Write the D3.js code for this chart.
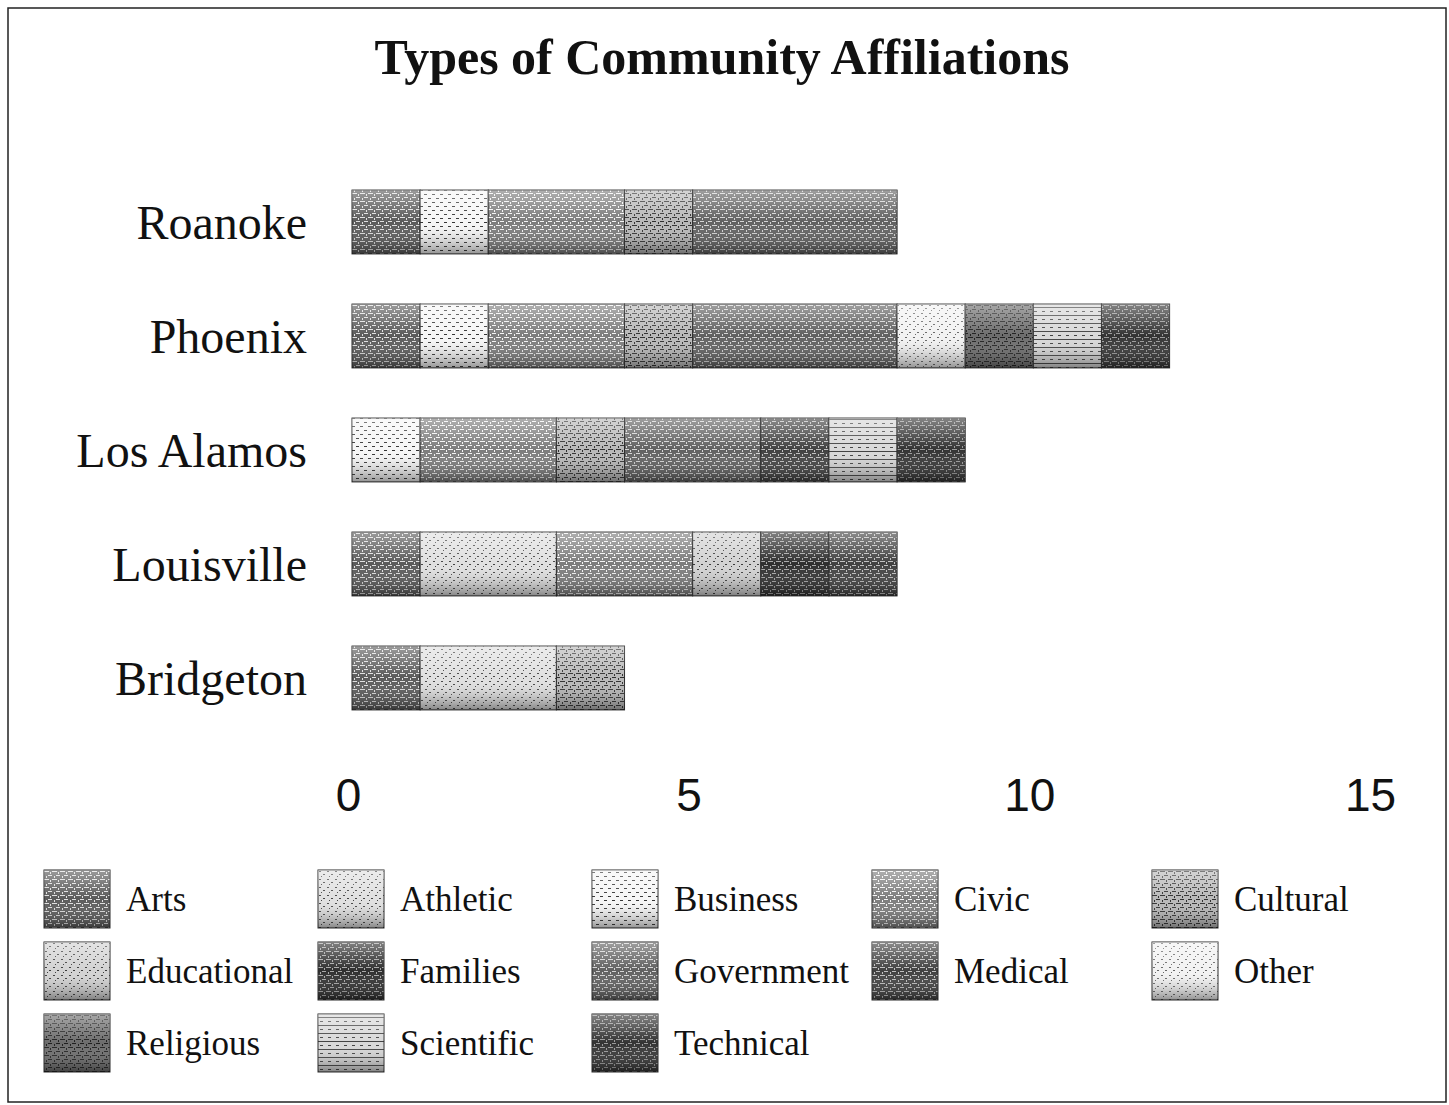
<!DOCTYPE html>
<html>
<head>
<meta charset="utf-8">
<script src="https://cdn.jsdelivr.net/npm/d3@7"></script>
<style>
  body { margin: 0; background: #fff; }
  svg { display: block; }
</style>
</head>
<body>
<div id="chart"></div>
<script>
// cities, top to bottom
const cities = ["Roanoke", "Phoenix", "Los Alamos", "Louisville", "Bridgeton"];
const categories = ["Arts", "Athletic", "Business", "Civic", "Cultural", "Educational",
  "Families", "Government", "Medical", "Other", "Religious", "Scientific", "Technical"];
const xTicks = [0, 5, 10, 15];

// counts per category, same order as cities
const arts        = [1, 1, 0, 1, 1];
const athletic    = [0, 0, 0, 2, 2];
const business    = [1, 1, 1, 0, 0];
const civic       = [2, 2, 2, 2, 0];
const cultural    = [1, 1, 1, 0, 1];
const educational = [0, 0, 0, 1, 0];
const families    = [0, 0, 0, 1, 0];
const government  = [3, 3, 2, 0, 0];
const medical     = [0, 0, 1, 1, 0];
const other       = [0, 1, 0, 0, 0];
const religious   = [0, 1, 0, 0, 0];
const scientific  = [0, 1, 1, 0, 0];
const technical   = [0, 1, 1, 0, 0];

const series = [arts, athletic, business, civic, cultural, educational,
  families, government, medical, other, religious, scientific, technical];

const rows = cities.map((c, i) => {
  const r = { city: c };
  categories.forEach((k, j) => r[k] = series[j][i]);
  return r;
});

// grey textures, roughly like the scanned fills
const fills = {
  Arts:        { bg: "#5a5a5a", fg: "#e0e0e0", kind: "brick" },
  Athletic:    { bg: "#e0e0e0", fg: "#444",    kind: "dot" },
  Business:    { bg: "#f6f6f6", fg: "#333",    kind: "dash" },
  Civic:       { bg: "#7c7c7c", fg: "#f4f4f4", kind: "brick" },
  Cultural:    { bg: "#b8b8b8", fg: "#2e2e2e", kind: "brick" },
  Educational: { bg: "#d2d2d2", fg: "#3a3a3a", kind: "dot" },
  Families:    { bg: "#2e2e2e", fg: "#a8a8a8", kind: "brick" },
  Government:  { bg: "#606060", fg: "#d4d4d4", kind: "brick" },
  Medical:     { bg: "#404040", fg: "#c0c0c0", kind: "brick" },
  Other:       { bg: "#f2f2f2", fg: "#666",    kind: "dot" },
  Religious:   { bg: "#6c6c6c", fg: "#1e1e1e", kind: "brick" },
  Scientific:  { bg: "#d8d8d8", fg: "#404040", kind: "hline" },
  Technical:   { bg: "#333",    fg: "#9a9a9a", kind: "brick" }
};

const width = 1449, height = 1105;

const svg = d3.select("#chart").append("svg")
  .attr("width", width)
  .attr("height", height);

const defs = svg.append("defs");

function makePattern(id, f) {
  const p = defs.append("pattern")
    .attr("id", id)
    .attr("patternUnits", "userSpaceOnUse")
    .attr("width", 8).attr("height", 8);
  p.append("rect").attr("width", 8).attr("height", 8).attr("fill", f.bg);
  const dot = (px, py, w, h) => p.append("rect")
    .attr("x", px).attr("y", py).attr("width", w).attr("height", h).attr("fill", f.fg);
  if (f.kind === "brick") {
    dot(0, 1, 5, 1); dot(4, 5, 5, 1); dot(6, 2, 1, 2); dot(2, 6, 1, 2);
  } else if (f.kind === "dot") {
    dot(1, 1, 2, 1); dot(5, 4, 2, 1); dot(3, 6, 1, 1);
  } else if (f.kind === "dash") {
    dot(0, 2, 3, 1); dot(4, 6, 3, 1);
  } else {
    dot(0, 3, 8, 1); dot(2, 7, 3, 1);
  }
}
categories.forEach((k, i) => makePattern("pat" + i, fills[k]));

// light at top, darker toward the bottom
const grad = defs.append("linearGradient")
  .attr("id", "shade").attr("x1", 0).attr("y1", 0).attr("x2", 0).attr("y2", 1);
grad.append("stop").attr("offset", "0%").attr("stop-color", "#fff").attr("stop-opacity", 0.4);
grad.append("stop").attr("offset", "50%").attr("stop-color", "#fff").attr("stop-opacity", 0);
grad.append("stop").attr("offset", "100%").attr("stop-color", "#000").attr("stop-opacity", 0.4);

// frame
svg.append("rect")
  .attr("x", 8).attr("y", 8)
  .attr("width", 1438).attr("height", 1094)
  .attr("fill", "none")
  .attr("stroke", "#222")
  .attr("stroke-width", 1.5);

svg.append("text")
  .attr("x", 722).attr("y", 74)
  .attr("text-anchor", "middle")
  .style("font-family", "'Liberation Serif', 'Times New Roman', serif")
  .style("font-weight", "bold")
  .style("font-size", "50px")
  .style("fill", "#111")
  .text("Types of Community Affiliations");

const x = d3.scaleLinear()
  .domain([0, 15])
  .range([352, 1374]);

const y = d3.scaleBand()
  .domain(cities)
  .range([165, 735])
  .paddingInner(0.44)
  .paddingOuter(0.22);

const stacked = d3.stack().keys(categories)(rows);

const layers = svg.append("g").selectAll("g")
  .data(stacked)
  .enter().append("g")
  .attr("fill", (d, i) => `url(#pat${i})`);

const segs = layers.selectAll("rect")
  .data(d => d.filter(s => s[1] > s[0]))
  .enter();

segs.append("rect")
  .attr("x", d => x(d[0]))
  .attr("y", d => y(d.data.city))
  .attr("width", d => x(d[1]) - x(d[0]))
  .attr("height", y.bandwidth())
  .attr("stroke", "#2a2a2a")
  .attr("stroke-width", 1);

segs.append("rect")
  .attr("x", d => x(d[0]))
  .attr("y", d => y(d.data.city))
  .attr("width", d => x(d[1]) - x(d[0]))
  .attr("height", y.bandwidth())
  .attr("fill", "url(#shade)");

// city labels
svg.append("g").selectAll("text")
  .data(cities)
  .enter().append("text")
  .attr("x", 307)
  .attr("y", d => y(d) + y.bandwidth() / 2 + 17)
  .attr("text-anchor", "end")
  .style("font-family", "'Liberation Serif', 'Times New Roman', serif")
  .style("font-size", "48px")
  .style("fill", "#111")
  .text(d => d);

// x axis, labels only
const xAxis = svg.append("g")
  .attr("transform", "translate(-4,770)")
  .call(d3.axisBottom(x).tickValues(xTicks).tickSize(0).tickPadding(0));
xAxis.select(".domain").remove();
xAxis.selectAll("text")
  .attr("dy", "0.9em")
  .style("font-family", "'Liberation Sans', Arial, sans-serif")
  .style("font-size", "46px")
  .style("fill", "#111");

// legend, 5 columns
const legX = [44, 318, 592, 872, 1152];
const legY = [870, 942, 1014];
const legend = svg.append("g").selectAll("g")
  .data(categories)
  .enter().append("g")
  .attr("transform", (d, i) => `translate(${legX[i % 5]},${legY[Math.floor(i / 5)]})`);

legend.append("rect")
  .attr("width", 66).attr("height", 58)
  .attr("fill", (d, i) => `url(#pat${i})`)
  .attr("stroke", "#2a2a2a");
legend.append("rect")
  .attr("width", 66).attr("height", 58)
  .attr("fill", "url(#shade)");
legend.append("text")
  .attr("x", 82).attr("y", 41)
  .style("font-family", "'Liberation Serif', 'Times New Roman', serif")
  .style("font-size", "35px")
  .style("fill", "#111")
  .text(d => d);
</script>
</body>
</html>
